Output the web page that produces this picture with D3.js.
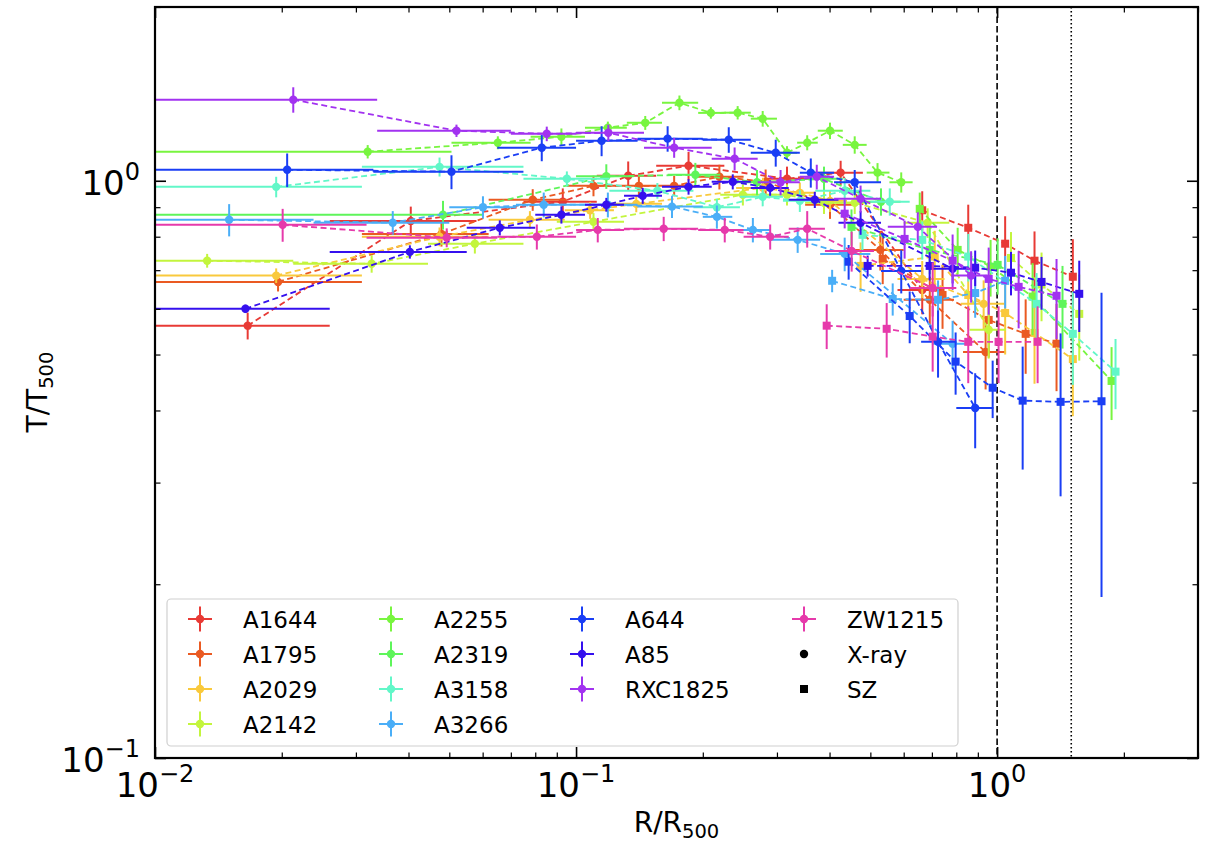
<!DOCTYPE html>
<html>
<head>
<meta charset="utf-8">
<script src="https://cdn.jsdelivr.net/npm/d3@7"></script>
<style>
  body { margin: 0; background: #fff; }
  svg { font-family: "DejaVu Sans", sans-serif; }
</style>
</head>
<body>
<div class="canvas"></div>
<script>
// cluster names and colours
const clusterNames = ['A1644', 'A1795', 'A2029', 'A2142', 'A2255', 'A2319',
  'A3158', 'A3266', 'A644', 'A85', 'RXC1825', 'ZW1215']
const clusterColors = ['#e83a35', '#ea5a22', '#f9c93c', '#c3f53d', '#78f53f', '#5ef55a',
  '#62f7c8', '#4aaef7', '#1a3ef5', '#3510ee', '#a232f0', '#e63aab']

// X-ray profiles: [R/R500, bin low, bin high, T/T500, dT]
const xrayA1644 = [[0.0166, 0.001, 0.026, 0.561, 0.03], [0.0405, 0.026, 0.058, 0.852, 0.05],
  [0.093, 0.075, 0.112, 0.920, 0.05], [0.133, 0.112, 0.155, 1.020, 0.06], [0.185, 0.155, 0.225, 1.062, 0.06],
  [0.317, 0.28, 0.36, 1.008, 0.05], [0.425, 0.36, 0.48, 1.033, 0.05], [0.664, 0.58, 0.75, 0.647, 0.06]]
const xrayA1795 = [[0.0196, 0.001, 0.031, 0.668, 0.025], [0.0479, 0.031, 0.062, 0.809, 0.04],
  [0.0789, 0.062, 0.095, 0.927, 0.04], [0.110, 0.095, 0.125, 0.980, 0.04], [0.141, 0.125, 0.157, 0.980, 0.04],
  [0.171, 0.157, 0.19, 0.980, 0.04], [0.219, 0.19, 0.25, 1.016, 0.05], [0.282, 0.25, 0.32, 0.996, 0.05],
  [0.401, 0.35, 0.46, 0.909, 0.05], [0.528, 0.46, 0.60, 0.759, 0.06], [0.692, 0.60, 0.79, 0.622, 0.06],
  [0.939, 0.83, 1.05, 0.505, 0.07]]
const xrayA2029 = [[0.0194, 0.001, 0.031, 0.685, 0.02], [0.0474, 0.031, 0.062, 0.800, 0.03],
  [0.0777, 0.062, 0.094, 0.856, 0.03], [0.108, 0.094, 0.123, 0.889, 0.03], [0.139, 0.123, 0.16, 0.912, 0.03],
  [0.278, 0.24, 0.31, 0.972, 0.04], [0.340, 0.31, 0.37, 0.953, 0.04], [0.401, 0.37, 0.44, 0.923, 0.04],
  [0.664, 0.58, 0.75, 0.676, 0.05], [0.929, 0.82, 1.04, 0.612, 0.06]]
const xrayA2142 = [[0.0133, 0.001, 0.0213, 0.727, 0.02], [0.0327, 0.0213, 0.0445, 0.718, 0.025],
  [0.0575, 0.0445, 0.075, 0.778, 0.03], [0.110, 0.09, 0.13, 0.849, 0.03], [0.249, 0.22, 0.28, 0.946, 0.04],
  [0.317, 0.28, 0.35, 0.946, 0.04], [0.388, 0.35, 0.42, 0.916, 0.04], [0.459, 0.42, 0.50, 0.916, 0.04],
  [0.684, 0.60, 0.77, 0.846, 0.05], [0.955, 0.86, 1.05, 0.552, 0.06]]
const xrayA2255 = [[0.032, 0.001, 0.0506, 1.123, 0.03], [0.0652, 0.0506, 0.078, 1.164, 0.03],
  [0.0923, 0.078, 0.105, 1.192, 0.04], [0.119, 0.105, 0.132, 1.236, 0.03], [0.146, 0.132, 0.16, 1.260, 0.035],
  [0.176, 0.16, 0.195, 1.365, 0.04], [0.209, 0.195, 0.225, 1.311, 0.03], [0.242, 0.225, 0.26, 1.312, 0.035],
  [0.2775, 0.26, 0.30, 1.281, 0.04], [0.317, 0.30, 0.335, 1.118, 0.03], [0.354, 0.335, 0.375, 1.164, 0.035],
  [0.401, 0.375, 0.43, 1.221, 0.04], [0.459, 0.43, 0.49, 1.154, 0.04], [0.520, 0.49, 0.555, 1.033, 0.04],
  [0.592, 0.555, 0.63, 0.994, 0.04]]
const xrayA2319 = [[0.0483, 0.001, 0.06, 0.873, 0.05], [0.118, 0.10, 0.137, 1.018, 0.05],
  [0.192, 0.165, 0.22, 1.024, 0.05], [0.269, 0.24, 0.30, 0.994, 0.05], [0.388, 0.35, 0.43, 1.008, 0.05],
  [0.53, 0.47, 0.59, 0.920, 0.05]]
const xrayA3158 = [[0.0194, 0.001, 0.031, 0.976, 0.04], [0.0474, 0.031, 0.075, 1.057, 0.04],
  [0.0951, 0.075, 0.12, 1.008, 0.03], [0.156, 0.12, 0.19, 0.961, 0.03], [0.216, 0.19, 0.245, 0.900, 0.03],
  [0.2775, 0.245, 0.31, 0.938, 0.035], [0.340, 0.31, 0.37, 0.923, 0.04], [0.4345, 0.37, 0.50, 0.961, 0.05],
  [0.556, 0.50, 0.62, 0.920, 0.05]]
const xrayA3266 = [[0.0150, 0.001, 0.0238, 0.856, 0.055], [0.0367, 0.0238, 0.05, 0.846, 0.04],
  [0.0601, 0.05, 0.072, 0.900, 0.04], [0.0838, 0.072, 0.098, 0.909, 0.045], [0.119, 0.098, 0.14, 0.909, 0.045],
  [0.169, 0.14, 0.20, 0.902, 0.04], [0.216, 0.20, 0.235, 0.866, 0.04], [0.263, 0.235, 0.29, 0.822, 0.04],
  [0.336, 0.29, 0.38, 0.790, 0.04], [0.4345, 0.38, 0.50, 0.747, 0.05], [0.784, 0.70, 0.87, 0.522, 0.05]]
const xrayA644 = [[0.0206, 0.001, 0.033, 1.045, 0.07], [0.0506, 0.033, 0.075, 1.037, 0.07],
  [0.0829, 0.065, 0.10, 1.141, 0.06], [0.115, 0.10, 0.14, 1.173, 0.07], [0.165, 0.14, 0.20, 1.183, 0.06],
  [0.2305, 0.20, 0.26, 1.178, 0.06], [0.298, 0.26, 0.34, 1.118, 0.06], [0.361, 0.34, 0.41, 1.033, 0.06],
  [0.459, 0.41, 0.53, 0.994, 0.05], [0.592, 0.53, 0.66, 0.698, 0.06], [0.724, 0.66, 0.80, 0.526, 0.07],
  [0.887, 0.80, 0.98, 0.404, 0.06]]
const xrayA85 = [[0.0164, 0.001, 0.026, 0.600, 0.01], [0.0403, 0.026, 0.055, 0.753, 0.02],
  [0.0659, 0.055, 0.08, 0.829, 0.025], [0.0923, 0.08, 0.105, 0.873, 0.03], [0.118, 0.105, 0.13, 0.909, 0.025],
  [0.144, 0.13, 0.16, 0.942, 0.03], [0.185, 0.16, 0.21, 0.976, 0.03], [0.2356, 0.21, 0.26, 0.996, 0.03],
  [0.289, 0.26, 0.32, 0.972, 0.03], [0.369, 0.32, 0.42, 0.927, 0.03], [0.474, 0.42, 0.53, 0.846, 0.04],
  [0.784, 0.70, 0.87, 0.704, 0.04]]
const xrayRXC1825 = [[0.0213, 0.001, 0.0337, 1.382, 0.07], [0.052, 0.0337, 0.07, 1.221, 0.03],
  [0.0852, 0.07, 0.10, 1.206, 0.035], [0.1193, 0.10, 0.145, 1.211, 0.04], [0.171, 0.145, 0.21, 1.141, 0.045],
  [0.238, 0.21, 0.27, 1.092, 0.05], [0.306, 0.27, 0.34, 0.994, 0.05], [0.373, 0.34, 0.41, 1.016, 0.05],
  [0.474, 0.41, 0.53, 0.931, 0.05], [0.648, 0.55, 0.72, 0.832, 0.05], [0.8675, 0.78, 0.95, 0.685, 0.07]]
const xrayZW1215 = [[0.0201, 0.001, 0.0318, 0.839, 0.055], [0.0493, 0.0318, 0.065, 0.797, 0.03],
  [0.0807, 0.065, 0.10, 0.800, 0.04], [0.1126, 0.10, 0.13, 0.822, 0.04], [0.1615, 0.13, 0.195, 0.826, 0.04],
  [0.2255, 0.195, 0.25, 0.822, 0.04], [0.2891, 0.25, 0.32, 0.800, 0.04], [0.354, 0.32, 0.39, 0.826, 0.06],
  [0.4514, 0.39, 0.51, 0.756, 0.06], [0.703, 0.62, 0.80, 0.652, 0.07]]

// SZ profiles: [R/R500, T/T500, dT]
const szA1644 = [[0.664, 0.889, 0.07], [0.854, 0.829, 0.08], [1.045, 0.778, 0.09], [1.227, 0.727, 0.09], [1.513, 0.682, 0.11]]
const szA1795 = [[0.535, 0.732, 0.07], [0.742, 0.634, 0.08], [0.955, 0.574, 0.08], [1.169, 0.543, 0.08], [1.384, 0.522, 0.09]]
const szA2029 = [[0.474, 0.712, 0.07], [0.711, 0.739, 0.08], [0.854, 0.634, 0.08], [1.045, 0.590, 0.09], [1.227, 0.545, 0.10], [1.513, 0.491, 0.10]]
const szA2142 = [[1.079, 0.735, 0.08], [1.275, 0.661, 0.09], [1.567, 0.588, 0.10]]
const szA2255 = [[0.655, 0.894, 0.06], [0.806, 0.759, 0.07], [0.965, 0.710, 0.08], [1.214, 0.630, 0.09], [1.87, 0.450, 0.065]]
const szA2319 = [[0.451, 0.832, 0.06], [0.692, 0.759, 0.07], [1.003, 0.715, 0.08], [1.43, 0.612, 0.10]]
const szA3158 = [[0.479, 0.806, 0.05], [0.664, 0.790, 0.06], [0.854, 0.739, 0.07], [1.241, 0.612, 0.08], [1.513, 0.543, 0.10], [1.911, 0.467, 0.065]]
const szA3266 = [[0.4057, 0.671, 0.03], [0.565, 0.624, 0.04], [0.724, 0.622, 0.05], [0.887, 0.639, 0.06], [1.045, 0.671, 0.07]]
const szA644 = [[0.444, 0.724, 0.05], [0.620, 0.583, 0.06], [0.797, 0.486, 0.06], [0.976, 0.438, 0.05], [1.15, 0.416, 0.10], [1.415, 0.414, 0.13], [1.77, 0.415, 0.225]]
const szA85 = [[0.4926, 0.712, 0.03], [0.6915, 0.712, 0.04], [0.887, 0.707, 0.05], [1.079, 0.693, 0.06], [1.275, 0.668, 0.07], [1.567, 0.637, 0.09]]
const szRXC1825 = [[0.4345, 0.877, 0.05], [0.603, 0.793, 0.06], [0.784, 0.727, 0.08], [0.955, 0.676, 0.09], [1.125, 0.655, 0.10], [1.384, 0.632, 0.10]]
const szZW1215 = [[0.3938, 0.561, 0.05], [0.5467, 0.554, 0.06], [0.703, 0.537, 0.07], [0.854, 0.526, 0.08], [1.008, 0.526, 0.08], [1.248, 0.526, 0.08]]

const xrayProfiles = [xrayA1644, xrayA1795, xrayA2029, xrayA2142, xrayA2255, xrayA2319,
  xrayA3158, xrayA3266, xrayA644, xrayA85, xrayRXC1825, xrayZW1215]
const szProfiles = [szA1644, szA1795, szA2029, szA2142, szA2255, szA2319,
  szA3158, szA3266, szA644, szA85, szRXC1825, szZW1215]

// axis ticks and reference radii
const xTickValues = [0.01, 0.1, 1]
const xTickExps = ['\u22122', '\u22121', '0']
const yTickValues = [0.1, 1]
const yTickExps = ['\u22121', '0']
const refLines = [1, 1.5]

const width = 1222
const height = 842
const margin = { top: 7, right: 24, bottom: 84, left: 155 }
const graphWidth = width - margin.left - margin.right
const graphHeight = height - margin.top - margin.bottom

const svg = d3.select('.canvas').append('svg')
    .attr('width', width)
    .attr('height', height)

const graph = svg.append('g')
    .attr('transform', `translate(${margin.left}, ${margin.top})`)

const x = d3.scaleLog().domain([0.01, 3]).range([0, graphWidth])
const y = d3.scaleLog().domain([0.1, 2]).range([graphHeight, 0])

graph.append('clipPath').attr('id', 'plot-clip')
  .append('rect').attr('width', graphWidth).attr('height', graphHeight)

// reference lines at R500 and 1.5 R500
graph.selectAll('.ref')
  .data(refLines)
  .enter()
  .append('line')
    .attr('x1', d => x(d)).attr('x2', d => x(d))
    .attr('y1', 0).attr('y2', graphHeight)
    .attr('stroke', '#000')
    .attr('stroke-width', 1.6)
    .attr('stroke-dasharray', (d, i) => i === 0 ? '6.5,3' : '1.6,2.4')

const plot = graph.append('g').attr('clip-path', 'url(#plot-clip)')

const line = d3.line()
const xrayLine = line.x(d => x(d[0])).y(d => y(d[3]))

clusterNames.forEach((name, i) => {
  const color = clusterColors[i]
  const g = plot.append('g').attr('class', 'cluster')
  const xray = xrayProfiles[i]
  const sz = szProfiles[i]

  // X-ray error bars
  g.selectAll('.xbar').data(xray).enter().append('line')
      .attr('x1', d => x(d[1])).attr('x2', d => x(d[2]))
      .attr('y1', d => y(d[3])).attr('y2', d => y(d[3]))
      .attr('stroke', color).attr('stroke-width', 2)
  g.selectAll('.ybar').data(xray).enter().append('line')
      .attr('x1', d => x(d[0])).attr('x2', d => x(d[0]))
      .attr('y1', d => y(d[3] - d[4])).attr('y2', d => y(d[3] + d[4]))
      .attr('stroke', color).attr('stroke-width', 2)
  g.append('path')
      .attr('d', d3.line().x(d => x(d[0])).y(d => y(d[3]))(xray))
      .attr('fill', 'none').attr('stroke', color)
      .attr('stroke-width', 1.8).attr('stroke-dasharray', '6,3.5')
  g.selectAll('circle').data(xray).enter().append('circle')
      .attr('cx', d => x(d[0])).attr('cy', d => y(d[3]))
      .attr('r', 4.2).attr('fill', color)

  // SZ error bars
  g.selectAll('.szbar').data(sz).enter().append('line')
      .attr('x1', d => x(d[0])).attr('x2', d => x(d[0]))
      .attr('y1', d => y(d[1] - d[2])).attr('y2', d => y(d[1] + d[2]))
      .attr('stroke', color).attr('stroke-width', 2)
  g.append('path')
      .attr('d', d3.line().x(d => x(d[0])).y(d => y(d[1]))(sz))
      .attr('fill', 'none').attr('stroke', color)
      .attr('stroke-width', 1.8).attr('stroke-dasharray', '6,3.5')
  g.selectAll('rect').data(sz).enter().append('rect')
      .attr('x', d => x(d[0]) - 4).attr('y', d => y(d[1]) - 4)
      .attr('width', 8).attr('height', 8).attr('fill', color)
})

// axes with inward ticks on all four sides
const xMinor = x.ticks().filter(d => !xTickValues.includes(d))
const yMinor = y.ticks().filter(d => !yTickValues.includes(d))

function styleAxis(sel, w) {
  sel.select('.domain').remove()
  sel.selectAll('line').attr('stroke', '#000').attr('stroke-width', w)
  sel.selectAll('text').remove()
}

const axes = [
  [d3.axisBottom, `translate(0, ${graphHeight})`, x],
  [d3.axisTop, 'translate(0, 0)', x],
  [d3.axisLeft, 'translate(0, 0)', y],
  [d3.axisRight, `translate(${graphWidth}, 0)`, y]
]
axes.forEach(([axisFn, tr, scale]) => {
  const majors = scale === x ? xTickValues : yTickValues
  const minors = scale === x ? xMinor : yMinor
  graph.append('g').attr('transform', tr)
    .call(axisFn(scale).tickValues(minors).tickSize(-5.5).tickFormat(''))
    .call(sel => styleAxis(sel, 1.2))
  graph.append('g').attr('transform', tr)
    .call(axisFn(scale).tickValues(majors).tickSize(-11).tickFormat(''))
    .call(sel => styleAxis(sel, 1.6))
})

graph.append('rect')
    .attr('width', graphWidth).attr('height', graphHeight)
    .attr('fill', 'none').attr('stroke', '#000').attr('stroke-width', 2.2)

// tick labels 10^n
xTickValues.forEach((v, i) => {
  const t = graph.append('text')
      .attr('x', x(v)).attr('y', graphHeight + 39)
      .attr('text-anchor', 'middle').attr('font-size', 34)
  t.append('tspan').text('10')
  t.append('tspan').attr('dy', -15).attr('font-size', 24).text(xTickExps[i])
})
yTickValues.forEach((v, i) => {
  const t = graph.append('text')
      .attr('x', -15).attr('y', y(v) + 14)
      .attr('text-anchor', 'end').attr('font-size', 34)
  t.append('tspan').text('10')
  t.append('tspan').attr('dy', -15).attr('font-size', 24).text(yTickExps[i])
})

// axis titles
const xLabel = svg.append('text')
    .attr('x', margin.left + graphWidth / 2).attr('y', 832)
    .attr('text-anchor', 'middle').attr('font-size', 28)
xLabel.append('tspan').text('R/R')
xLabel.append('tspan').attr('dy', 6).attr('font-size', 19.5).text('500')

const yLabel = svg.append('text')
    .attr('transform', 'translate(47, 392) rotate(-90)')
    .attr('text-anchor', 'middle').attr('font-size', 28)
yLabel.append('tspan').text('T/T')
yLabel.append('tspan').attr('dy', 6).attr('font-size', 19.5).text('500')

// legend
const legendEntries = clusterNames.map((n, i) => ({ label: n, color: clusterColors[i], kind: 'cluster' }))
  .concat([{ label: 'X-ray', kind: 'circle' }, { label: 'SZ', kind: 'square' }])
const legendColSizes = [4, 4, 3, 3]
const legendColX = [200, 391, 582, 804]

const legend = svg.append('g')
legend.append('rect')
    .attr('x', 167).attr('y', 599).attr('width', 791).attr('height', 147)
    .attr('rx', 4).attr('fill', '#fff').attr('fill-opacity', 0.8)
    .attr('stroke', '#d0d0d0').attr('stroke-width', 1.2)

let k = 0
legendColSizes.forEach((size, c) => {
  for (let r = 0; r < size; r++) {
    const e = legendEntries[k++]
    const cx = legendColX[c]
    const cy = 619 + r * 35
    const item = legend.append('g')
    if (e.kind === 'cluster') {
      item.append('line').attr('x1', cx - 12).attr('x2', cx + 12).attr('y1', cy).attr('y2', cy)
        .attr('stroke', e.color).attr('stroke-width', 2)
      item.append('line').attr('x1', cx).attr('x2', cx).attr('y1', cy - 12.5).attr('y2', cy + 12.5)
        .attr('stroke', e.color).attr('stroke-width', 2)
      item.append('circle').attr('cx', cx).attr('cy', cy).attr('r', 4.2).attr('fill', e.color)
    } else if (e.kind === 'circle') {
      item.append('circle').attr('cx', cx).attr('cy', cy).attr('r', 4.2).attr('fill', '#000')
    } else {
      item.append('rect').attr('x', cx - 4).attr('y', cy - 4).attr('width', 8).attr('height', 8).attr('fill', '#000')
    }
    item.append('text').attr('x', cx + 43).attr('y', cy + 8.5)
      .attr('font-size', 23).attr('fill', '#000').text(e.label)
  }
})
</script>
</body>
</html>
